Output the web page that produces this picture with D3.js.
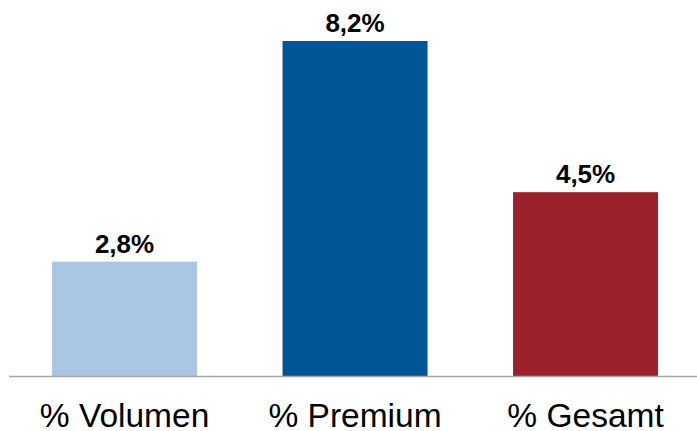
<!DOCTYPE html>
<html>
<head>
<meta charset="utf-8">
<script src="https://cdn.jsdelivr.net/npm/d3@7"></script>
<style>
html,body{margin:0;padding:0;background:#fff;}
svg{display:block;}
</style>
</head>
<body>
<svg id="chart" width="697" height="431"></svg>
<script>
const categories = ["% Volumen", "% Premium", "% Gesamt"];
const values = [2.8, 8.2, 4.5];
const valueLabels = ["2,8%", "8,2%", "4,5%"];
const colors = ["#a9c6e5", "#005596", "#9b222d"];

const svg = d3.select("#chart");
const baseY = 376;

const x = d3.scaleBand()
  .domain(categories)
  .range([9.4, 700.7])
  .paddingInner(0.371)
  .paddingOuter(0.185);

const y = d3.scaleLinear()
  .domain([0, 8.2])
  .range([baseY, 41]);

svg.selectAll("rect.bar")
  .data(categories)
  .enter().append("rect")
  .attr("class", "bar")
  .attr("x", d => x(d))
  .attr("width", x.bandwidth())
  .attr("y", (d, i) => y(values[i]))
  .attr("height", (d, i) => baseY - y(values[i]))
  .attr("fill", (d, i) => colors[i]);

// axis baseline
const axis = d3.axisBottom(x).tickSize(0).tickPadding(0);
const gAxis = svg.append("g")
  .attr("transform", `translate(0,${baseY})`)
  .call(axis);
gAxis.select(".domain")
  .attr("d", "M9,0.5H697")
  .attr("stroke", "#a6a6a6")
  .attr("stroke-width", 1.5);
gAxis.selectAll(".tick text")
  .attr("font-family", "Liberation Sans, Arial, sans-serif")
  .attr("font-size", 33.5)
  .attr("fill", "#000")
  .attr("dy", null)
  .attr("y", 51);

svg.selectAll("text.val")
  .data(categories)
  .enter().append("text")
  .attr("class", "val")
  .attr("x", d => x(d) + x.bandwidth() / 2)
  .attr("y", (d, i) => y(values[i]) - 9)
  .attr("text-anchor", "middle")
  .attr("font-family", "Liberation Sans, Arial, sans-serif")
  .attr("font-weight", "bold")
  .attr("font-size", 26)
  .attr("fill", "#000")
  .text((d, i) => valueLabels[i]);
</script>
</body>
</html>
